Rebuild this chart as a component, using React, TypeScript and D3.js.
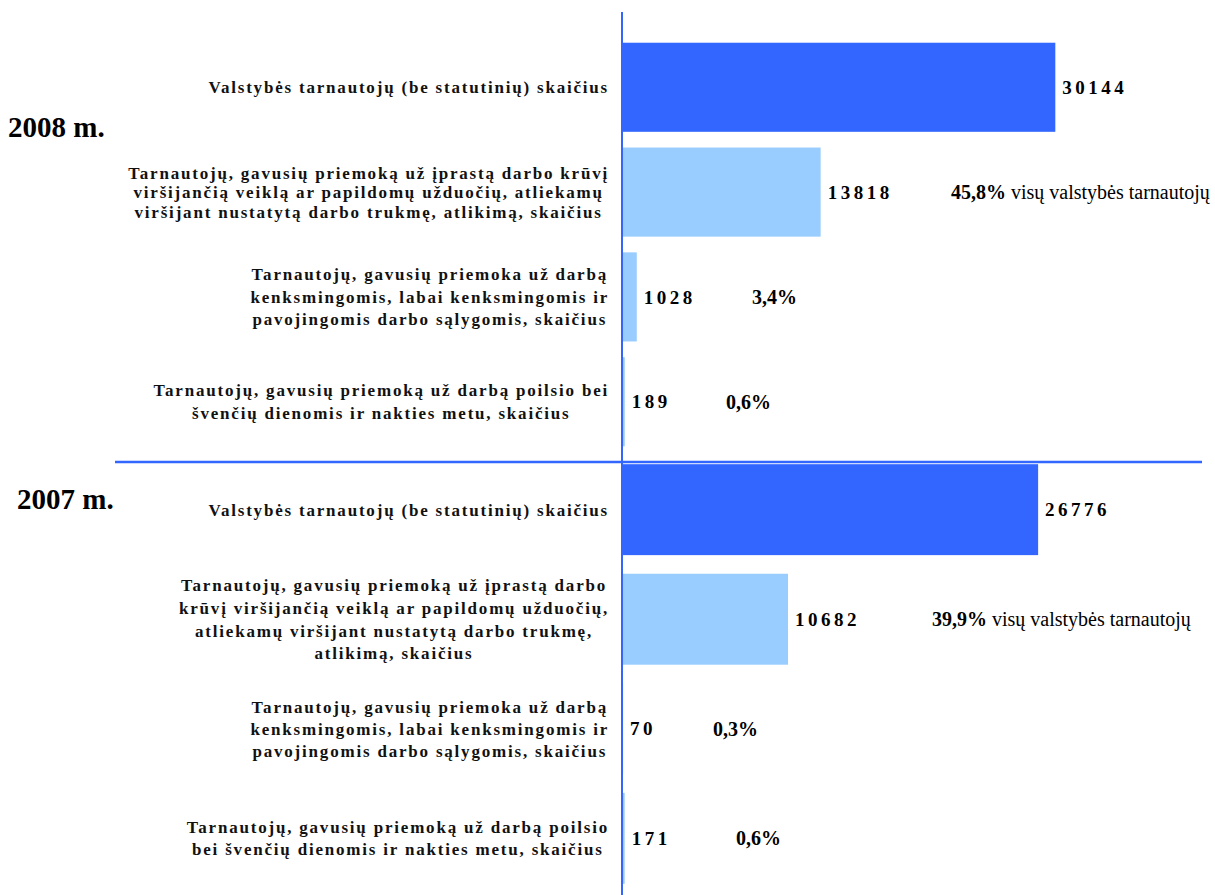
import React, { useEffect, useRef } from "react";
import * as d3 from "d3";

// ---- Data ----
const categories2008: string[][] = [
  ["Valstybės tarnautojų (be statutinių) skaičius"],
  [
    "Tarnautojų, gavusių priemoką už įprastą darbo krūvį",
    "viršijančią veiklą ar papildomų užduočių, atliekamų",
    "viršijant nustatytą darbo trukmę, atlikimą, skaičius",
  ],
  [
    "Tarnautojų, gavusių priemoka už darbą",
    "kenksmingomis, labai kenksmingomis ir",
    "pavojingomis darbo sąlygomis, skaičius",
  ],
  [
    "Tarnautojų, gavusių priemoką už darbą poilsio bei",
    "švenčių dienomis ir nakties metu, skaičius",
  ],
];
const categories2007: string[][] = [
  ["Valstybės tarnautojų (be statutinių) skaičius"],
  [
    "Tarnautojų, gavusių priemoką už įprastą darbo",
    "krūvį viršijančią veiklą ar papildomų užduočių,",
    "atliekamų viršijant nustatytą darbo trukmę,",
    "atlikimą, skaičius",
  ],
  [
    "Tarnautojų, gavusių priemoka už darbą",
    "kenksmingomis, labai kenksmingomis ir",
    "pavojingomis darbo sąlygomis, skaičius",
  ],
  [
    "Tarnautojų, gavusių priemoką už darbą poilsio",
    "bei švenčių dienomis ir nakties metu, skaičius",
  ],
];
const values2008 = [30144, 13818, 1028, 189];
const values2007 = [26776, 10682, 70, 171];
const percents2008 = ["", "45,8%", "3,4%", "0,6%"];
const percents2007 = ["", "39,9%", "0,3%", "0,6%"];
const percentSuffix = ["", " visų valstybės tarnautojų", "", ""];
const years = ["2008 m.", "2007 m."];

// ---- Layout ----
const W = 1215;
const H = 895;
const AXIS_X = 622;
const LABEL_RIGHT = 609;
const percentX2008 = [0, 951, 752, 726];
const percentX2007 = [0, 932, 713, 736];
const lineHeights2008 = [22, 19.5, 22.5, 23];
const lineHeights2007 = [22, 22.7, 22, 22];
const DARK = "#3366FF";
const LIGHT = "#99CCFF";
const SERIF = "'Liberation Serif', 'Times New Roman', serif";

export default function App() {
  const ref = useRef<SVGSVGElement>(null);

  useEffect(() => {
    const svg = d3.select(ref.current);
    svg.selectAll("*").remove();

    const groups = [
      {
        cats: categories2008,
        vals: values2008,
        pcts: percents2008,
        px: percentX2008,
        lhs: lineHeights2008,
        y: d3.scaleBand<number>().domain(d3.range(4)).range([27, 462]).paddingInner(0.15).paddingOuter(0.15),
        x: d3.scaleLinear().domain([0, 40000]).range([AXIS_X, AXIS_X + 575]),
        year: years[0],
        yearPos: [8, 127],
      },
      {
        cats: categories2007,
        vals: values2007,
        pcts: percents2007,
        px: percentX2007,
        lhs: lineHeights2007,
        y: d3.scaleBand<number>().domain(d3.range(4)).range([462, 886]).paddingInner(0.17).paddingOuter(0.02),
        x: d3.scaleLinear().domain([0, 37000]).range([AXIS_X, AXIS_X + 575]),
        year: years[1],
        yearPos: [17, 499],
      },
    ];

    groups.forEach((g) => {
      const gg = svg.append("g");
      gg.selectAll("rect")
        .data(g.vals)
        .join("rect")
        .attr("x", g.x(0))
        .attr("y", (_, i) => g.y(i)!)
        .attr("width", (d) => Math.max(0, g.x(d) - g.x(0)))
        .attr("height", g.y.bandwidth())
        .attr("fill", (_, i) => (i === 0 ? DARK : LIGHT));

      // value labels
      gg.selectAll("text.val")
        .data(g.vals)
        .join("text")
        .attr("class", "val")
        .attr("x", (d) => g.x(d) + 7)
        .attr("y", (_, i) => g.y(i)! + g.y.bandwidth() / 2)
        .attr("dy", "0.35em")
        .attr("font-family", SERIF)
        .attr("font-weight", "bold")
        .attr("font-size", 19)
        .attr("letter-spacing", 3.5)
        .attr("fill", "#000")
        .text((d) => String(d));

      // percent labels
      g.pcts.forEach((p, i) => {
        if (!p) return;
        const t = gg
          .append("text")
          .attr("x", g.px[i])
          .attr("y", g.y(i)! + g.y.bandwidth() / 2)
          .attr("dy", "0.35em")
          .attr("font-family", SERIF)
          .attr("font-size", 20)
          .attr("fill", "#000");
        t.append("tspan").attr("font-weight", "bold").text(p);
        if (percentSuffix[i]) t.append("tspan").text(percentSuffix[i]);
      });

      // category labels
      g.cats.forEach((lines, i) => {
        const lh = g.lhs[i];
        const cy = g.y(i)! + g.y.bandwidth() / 2;
        const block = gg.append("g");
        const texts = block
          .selectAll("text")
          .data(lines)
          .join("text")
          .attr("x", 0)
          .attr("y", (_, j) => cy + (j - (lines.length - 1) / 2) * lh)
          .attr("dy", "0.35em")
          .attr("text-anchor", "middle")
          .attr("font-family", SERIF)
          .attr("font-weight", "bold")
          .attr("font-size", 17)
          .attr("letter-spacing", 1.8)
          .attr("fill", "#111")
          .text((d) => d);
        let maxW = 0;
        texts.each(function () {
          const w = (this as SVGTextElement).getComputedTextLength();
          if (w > maxW) maxW = w;
        });
        block.attr("transform", `translate(${LABEL_RIGHT - maxW / 2},0)`);
      });

      svg
        .append("text")
        .attr("x", g.yearPos[0])
        .attr("y", g.yearPos[1])
        .attr("dy", "0.35em")
        .attr("font-family", SERIF)
        .attr("font-weight", "bold")
        .attr("font-size", 29)
        .attr("fill", "#000")
        .text(g.year);
    });

    // axis & separator
    svg.append("line")
      .attr("x1", AXIS_X).attr("x2", AXIS_X)
      .attr("y1", 12).attr("y2", H)
      .attr("stroke", DARK).attr("stroke-width", 2);
    svg.append("line")
      .attr("x1", 115).attr("x2", 1202)
      .attr("y1", 462).attr("y2", 462)
      .attr("stroke", DARK).attr("stroke-width", 2.5);
  }, []);

  return (
    <svg
      ref={ref}
      width={W}
      height={H}
      style={{ position: "absolute", left: 0, top: 0, background: "#fff" }}
    />
  );
}
